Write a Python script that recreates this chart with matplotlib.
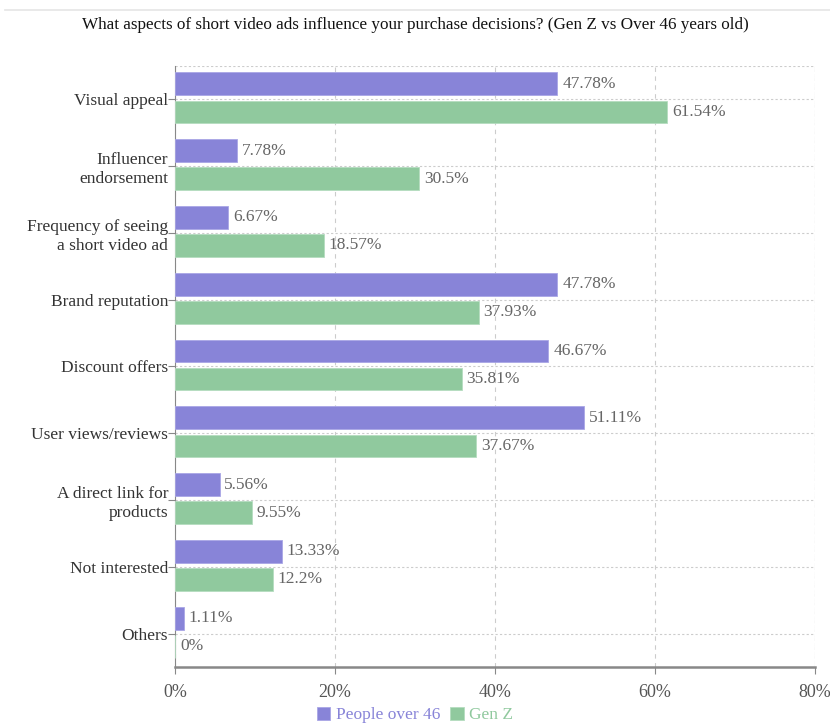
import matplotlib.pyplot as plt
from matplotlib.lines import Line2D
import numpy as np

plt.rcParams['font.family'] = ['Liberation Serif', 'DejaVu Serif']

# data
categories = ['Visual appeal', 'Influencer\nendorsement', 'Frequency of seeing\na short video ad',
              'Brand reputation', 'Discount offers', 'User views/reviews',
              'A direct link for\nproducts', 'Not interested', 'Others']
over46 = [47.78, 7.78, 6.67, 47.78, 46.67, 51.11, 5.56, 13.33, 1.11]
genz = [61.54, 30.5, 18.57, 37.93, 35.81, 37.67, 9.55, 12.2, 0]
over46_labels = ['47.78%', '7.78%', '6.67%', '47.78%', '46.67%', '51.11%', '5.56%', '13.33%', '1.11%']
genz_labels = ['61.54%', '30.5%', '18.57%', '37.93%', '35.81%', '37.67%', '9.55%', '12.2%', '0%']

purple = '#8884d8'
green = '#90c99e'
gray = '#666666'

fig = plt.figure(figsize=(8.3, 7.23), dpi=100)
ax = fig.add_axes([0.211, 0.0775, 0.771, 0.8315])

y = np.arange(len(categories))
h = 0.34
b1 = ax.barh(y - 0.23, over46, height=h, color=purple, edgecolor='#a9a6e6', linewidth=0.6, zorder=3)
b2 = ax.barh(y + 0.19, genz, height=h, color=green, edgecolor='#b4dcbf', linewidth=0.6, zorder=3)

for bars, labs in ((b1, over46_labels), (b2, genz_labels)):
    for r, lab in zip(bars, labs):
        ax.text(r.get_width() + 0.6, r.get_y() + r.get_height() / 2, lab,
                va='center', ha='left', fontsize=12.5, color=gray, zorder=4)

ax.set_xlim(0, 80)
ax.set_ylim(len(categories) - 0.5, -0.5)
ax.set_xticks([0, 20, 40, 60, 80])
ax.set_xticklabels(['0%', '20%', '40%', '60%', '80%'])
ax.set_yticks(y)
ax.set_yticklabels(categories, linespacing=1.25)

ax.grid(axis='x', linestyle=(0, (4, 4)), color='#cccccc', linewidth=0.8, zorder=0)
ax.grid(axis='y', linestyle=(0, (2, 2)), color='#cccccc', linewidth=0.8, zorder=0)
ax.axhline(-0.5, linestyle=(0, (2, 2)), color='#cccccc', linewidth=0.8, zorder=0)
ax.axvline(80, linestyle=(0, (2, 2)), color='#cccccc', linewidth=0.8, zorder=0)

for s in ['top', 'right']:
    ax.spines[s].set_visible(False)
ax.spines['left'].set_color('#888888')
ax.spines['bottom'].set_color('#888888')
ax.spines['bottom'].set_linewidth(1.8)
ax.tick_params(axis='y', length=5, color='#888888', labelsize=12.5, labelcolor='#333333', pad=0)
ax.tick_params(axis='x', length=5, color='#888888', labelsize=13, labelcolor='#555555', pad=7)

fig.text(0.5, 0.966, 'What aspects of short video ads influence your purchase decisions? (Gen Z vs Over 46 years old)',
         ha='center', va='center', fontsize=12.3, color='#111111')
fig.add_artist(Line2D([0.006, 1.0], [0.986, 0.986], color='#e5e5e5', linewidth=1.2))

leg = fig.legend([b1, b2], ['People over 46', 'Gen Z'], loc='center', bbox_to_anchor=(0.5, 0.011),
                 ncol=2, frameon=False, fontsize=12.5, handlelength=0.8, handleheight=0.8,
                 handletextpad=0.3, columnspacing=0.6)
for t, c in zip(leg.get_texts(), [purple, green]):
    t.set_color(c)

fig.savefig('out.png', dpi=100)
